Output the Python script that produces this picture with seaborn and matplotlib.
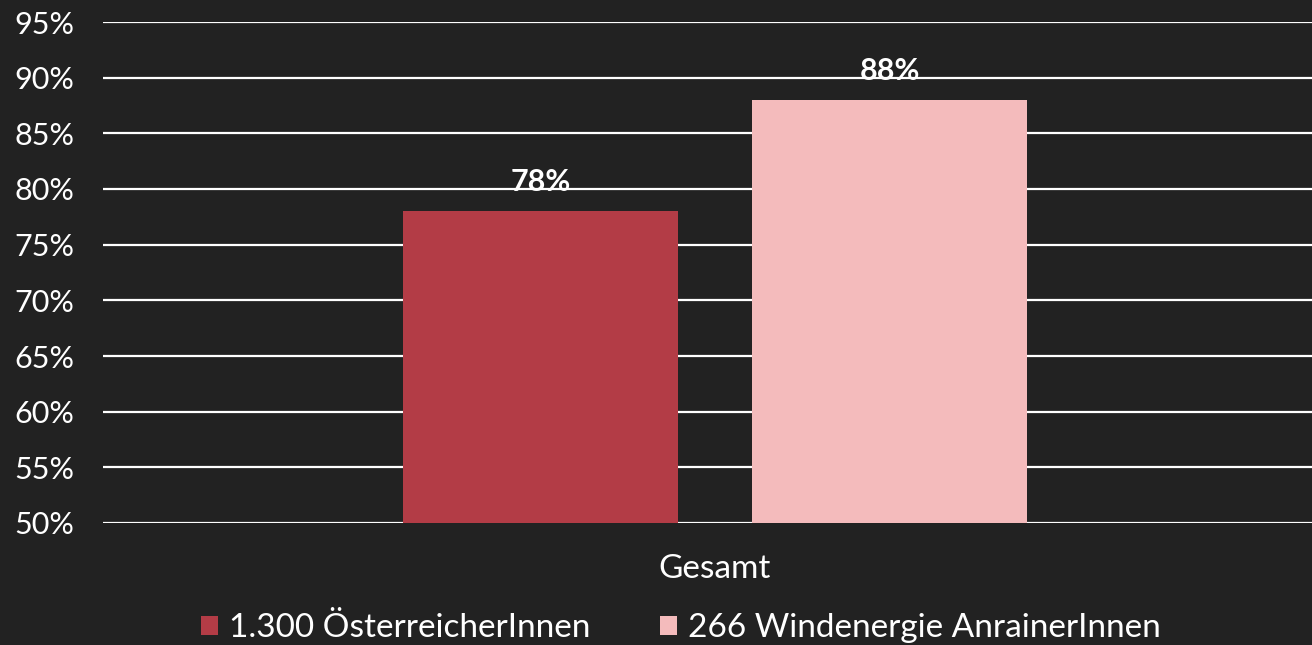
import matplotlib
matplotlib.use("Agg")
import matplotlib.pyplot as plt
import seaborn as sns
import pandas as pd
from matplotlib.patches import Patch

categories = ["Gesamt"]
series_names = ["1.300 ÖsterreicherInnen", "266 Windenergie AnrainerInnen"]
values = [78, 88]
colors = ["#B33C46", "#F4BBBC"]
yticks = [50, 55, 60, 65, 70, 75, 80, 85, 90, 95]
ytick_labels = [f"{t}%" for t in yticks]

df = pd.DataFrame({"cat": categories * len(series_names),
                   "series": series_names,
                   "value": values})

sns.set_theme(style="white")
bg = "#222222"
plt.rcParams['font.family'] = ['Lato', 'DejaVu Sans']
FS = 22
LFS = 24

fig = plt.figure(figsize=(13.12, 6.45), dpi=100, facecolor=bg)
ax = fig.add_axes([103/1312, (645-523)/645, 1224/1312, (523-22)/645])
ax.set_facecolor(bg)

sns.barplot(data=df, x="cat", y="value", hue="series", palette=colors,
            width=0.5704, gap=0.212, ax=ax, legend=False, zorder=3,
            saturation=1, edgecolor="none", linewidth=0)

ax.set_ylim(50, 95)
ax.set_xlim(-0.5, 0.5)
ax.set_yticks(yticks)
ax.set_yticklabels(ytick_labels)
ax.yaxis.grid(True, color="white", linewidth=1.6, zorder=0)
ax.set_axisbelow(True)
for s in ax.spines.values():
    s.set_visible(False)
ax.tick_params(axis="both", length=0, colors="white", labelsize=FS)
ax.tick_params(axis="x", pad=22, labelsize=LFS)
ax.set_xlabel("")
ax.set_ylabel("")
for lab in ax.get_yticklabels():
    lab.set_horizontalalignment("left")
    lab.set_x(-89/1224)
ax.tick_params(axis="y", pad=0)

for p, v in zip(ax.patches, values):
    ax.annotate(f"{v}%", (p.get_x() + p.get_width()/2, v), xytext=(0, 29),
                textcoords="offset pixels",
                ha="center", va="center", color="white", fontsize=FS,
                fontweight="bold")

handles = [Patch(facecolor=c, edgecolor="none") for c in colors]
leg = fig.legend(handles, series_names, loc="center", ncol=2,
                 bbox_to_anchor=(681/1312, 1 - 628/645), frameon=False,
                 prop={"size": LFS}, labelcolor="white",
                 handlelength=0.5, handleheight=0.5, handletextpad=0.33,
                 columnspacing=2.1)

fig.savefig("out.png", dpi=100, facecolor=bg)
